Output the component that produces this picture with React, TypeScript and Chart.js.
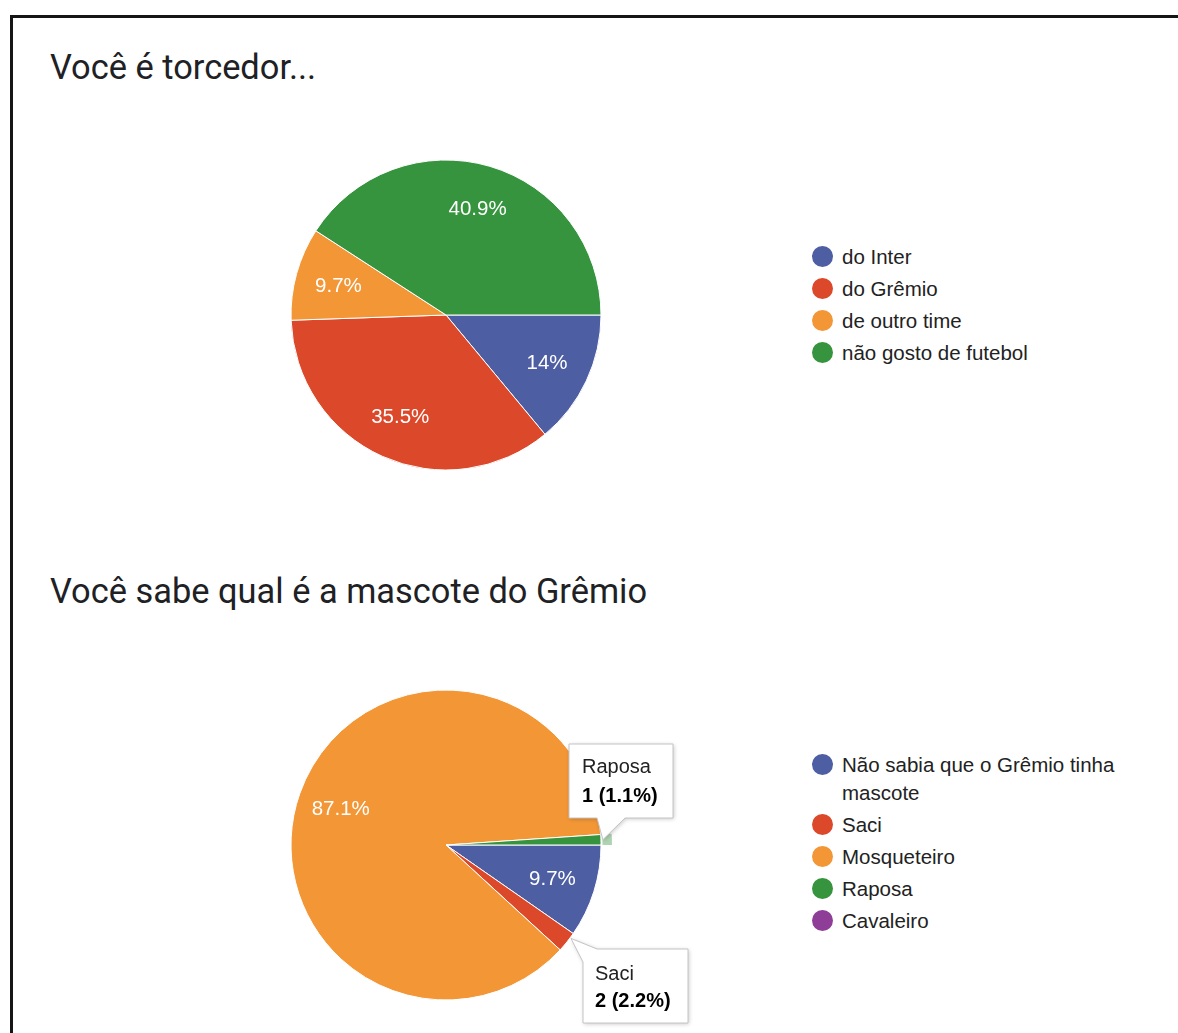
import React, { useEffect, useRef } from "react";
import { Chart, registerables } from "chart.js";

Chart.register(...registerables);

// ---------- data ----------
const supportTitle = "Você é torcedor...";
const supportLabels = ["do Inter", "do Grêmio", "de outro time", "não gosto de futebol"];
const supportValues = [13, 33, 9, 38];

const mascotTitle = "Você sabe qual é a mascote do Grêmio";
const mascotLabels = ["Não sabia que o Grêmio tinha mascote", "Saci", "Mosqueteiro", "Raposa", "Cavaleiro"];
const mascotValues = [9, 2, 81, 1, 0];

const BLUE = "#4e5ea3";
const RED = "#dc482a";
const ORANGE = "#f39636";
const GREEN = "#36943e";
const PURPLE = "#8e3e96";

const supportColors = [BLUE, RED, ORANGE, GREEN];
const mascotColors = [BLUE, RED, ORANGE, GREEN, PURPLE];

const ARIAL = 'Arial, "Liberation Sans", sans-serif';

function fmtPct(v: number, total: number): string {
  const p = Math.round((v / total) * 1000) / 10;
  return p.toString() + "%";
}

// ---------- plugins ----------
const sliceLabelPlugin = {
  id: "sliceLabels",
  afterDatasetsDraw(chart: any, _args: any, opts: any) {
    const ctx = chart.ctx as CanvasRenderingContext2D;
    const meta = chart.getDatasetMeta(0);
    const data = chart.data.datasets[0].data as number[];
    const total = data.reduce((a, b) => a + b, 0);
    ctx.save();
    ctx.font = `20.5px ${ARIAL}`;
    ctx.fillStyle = "#ffffff";
    ctx.textAlign = "center";
    ctx.textBaseline = "middle";
    meta.data.forEach((arc: any, i: number) => {
      const v = data[i];
      if (!v || (v / total) * 100 < (opts.minPercent ?? 5)) return;
      const p = arc.getProps(["x", "y", "startAngle", "endAngle", "outerRadius"], true);
      const mid = (p.startAngle + p.endAngle) / 2;
      const r = p.outerRadius * (opts.radiusFactor ?? 0.72);
      ctx.fillText(fmtPct(v, total), p.x + Math.cos(mid) * r, p.y + Math.sin(mid) * r + 1);
    });
    ctx.restore();
  },
};

const calloutPlugin = {
  id: "callouts",
  afterDraw(chart: any, _args: any, opts: any) {
    const items = opts.items || [];
    if (!items.length) return;
    const ctx = chart.ctx as CanvasRenderingContext2D;
    const meta = chart.getDatasetMeta(0);
    const data = chart.data.datasets[0].data as number[];
    const labels = chart.data.labels as string[];
    const colors = chart.data.datasets[0].backgroundColor as string[];
    const total = data.reduce((a, b) => a + b, 0);
    items.forEach((it: any) => {
      const arc = meta.data[it.index];
      const p = arc.getProps(["x", "y", "startAngle", "endAngle", "outerRadius"], true);
      const cx = p.x;
      const cy = p.y;
      ctx.save();
      if (it.ring) {
        ctx.beginPath();
        ctx.arc(cx, cy, p.outerRadius + 11, p.startAngle, p.endAngle);
        ctx.arc(cx, cy, p.outerRadius + 1.5, p.endAngle, p.startAngle, true);
        ctx.closePath();
        ctx.globalAlpha = 0.4;
        ctx.fillStyle = colors[it.index];
        ctx.fill();
        ctx.globalAlpha = 1;
      }
      const ang = p.startAngle + (p.endAngle - p.startAngle) * (it.tipFrac ?? 0.5);
      const tr = p.outerRadius + (it.tipOffset ?? 2);
      const tx = cx + Math.cos(ang) * tr;
      const ty = cy + Math.sin(ang) * tr;
      const [bx0, by0, bx1, by1] = it.box;
      const x0 = cx + bx0, y0 = cy + by0, x1 = cx + bx1, y1 = cy + by1;
      const path = () => {
        ctx.beginPath();
        if (it.edge === "bottom") {
          const [t0, t1] = it.tail;
          ctx.moveTo(x0, y0);
          ctx.lineTo(x1, y0);
          ctx.lineTo(x1, y1);
          ctx.lineTo(cx + t1, y1);
          ctx.lineTo(tx, ty);
          ctx.lineTo(cx + t0, y1);
          ctx.lineTo(x0, y1);
          ctx.closePath();
        } else {
          const [topX, leftY] = it.tail;
          ctx.moveTo(cx + topX, y0);
          ctx.lineTo(x1, y0);
          ctx.lineTo(x1, y1);
          ctx.lineTo(x0, y1);
          ctx.lineTo(x0, cy + leftY);
          ctx.lineTo(tx, ty);
          ctx.closePath();
        }
      };
      path();
      ctx.shadowColor = "rgba(0,0,0,0.22)";
      ctx.shadowBlur = 4;
      ctx.shadowOffsetX = 1;
      ctx.shadowOffsetY = 1;
      ctx.fillStyle = "#ffffff";
      ctx.fill();
      ctx.shadowColor = "transparent";
      ctx.shadowBlur = 0;
      ctx.shadowOffsetX = 0;
      ctx.shadowOffsetY = 0;
      ctx.lineWidth = 1;
      ctx.strokeStyle = "#c4c4c4";
      path();
      ctx.stroke();

      ctx.textAlign = "left";
      ctx.textBaseline = "alphabetic";
      ctx.fillStyle = "#222222";
      ctx.font = `20px ${ARIAL}`;
      ctx.fillText(labels[it.index], x0 + it.textDx, y0 + it.line1);
      ctx.fillStyle = "#000000";
      ctx.font = `bold 20px ${ARIAL}`;
      ctx.fillText(`${data[it.index]} (${fmtPct(data[it.index], total)})`, x0 + it.textDx, y0 + it.line2);
      ctx.restore();
    });
  },
};

// ---------- chart component ----------
type PieProps = {
  labels: string[];
  values: number[];
  colors: string[];
  width: number;
  height: number;
  left: number;
  top: number;
  padding: { left: number; top: number; right: number; bottom: number };
  callouts?: any[];
};

function PieChart(props: PieProps) {
  const ref = useRef<HTMLCanvasElement | null>(null);
  useEffect(() => {
    if (!ref.current) return;
    const chart = new Chart(ref.current, {
      type: "pie",
      data: {
        labels: props.labels,
        datasets: [
          {
            data: props.values,
            backgroundColor: props.colors,
            borderColor: "#ffffff",
            borderWidth: 1,
            hoverOffset: 0,
          },
        ],
      },
      options: {
        animation: false,
        responsive: false,
        maintainAspectRatio: false,
        events: [],
        rotation: 90,
        radius: 155,
        layout: { padding: props.padding },
        plugins: {
          legend: { display: false },
          tooltip: { enabled: false },
          sliceLabels: { minPercent: 5, radiusFactor: 0.72 },
          callouts: { items: props.callouts || [] },
        } as any,
      },
      plugins: [sliceLabelPlugin as any, calloutPlugin as any],
    });
    return () => chart.destroy();
  }, []);
  return (
    <canvas
      ref={ref}
      width={props.width}
      height={props.height}
      style={{ position: "absolute", left: props.left, top: props.top, width: props.width, height: props.height }}
    />
  );
}

function Legend(props: { labels: string[]; colors: string[]; left: number; top: number; width: number }) {
  const L = 27.5;
  return (
    <div style={{ position: "absolute", left: props.left, top: props.top, width: props.width }}>
      {props.labels.map((lab, i) => (
        <div
          key={i}
          style={{
            position: "relative",
            paddingLeft: 30.5,
            marginBottom: 4.5,
            font: `20.5px ${ARIAL}`,
            lineHeight: `${L}px`,
            color: "#222222",
          }}
        >
          <span
            style={{
              position: "absolute",
              left: 0,
              top: (L - 21) / 2,
              width: 21,
              height: 21,
              borderRadius: "50%",
              background: props.colors[i],
            }}
          />
          {lab}
        </div>
      ))}
    </div>
  );
}

export default function App() {
  const titleStyle: React.CSSProperties = {
    position: "absolute",
    left: 50,
    font: '34.4px Roboto, "Noto Sans", sans-serif',
    lineHeight: "34px",
    color: "#202124",
    whiteSpace: "nowrap",
  };
  return (
    <div
      style={{
        position: "absolute",
        left: 0,
        top: 0,
        width: 1178,
        height: 1033,
        overflow: "hidden",
        background: "#ffffff",
      }}
    >
      <div
        style={{
          position: "absolute",
          left: 10,
          top: 15,
          width: 1400,
          height: 1200,
          border: "3px solid #151515",
          boxSizing: "border-box",
        }}
      />
      <div style={{ ...titleStyle, top: 49.5 }}>{supportTitle}</div>
      <PieChart
        labels={supportLabels}
        values={supportValues}
        colors={supportColors}
        width={340}
        height={340}
        left={276}
        top={145}
        padding={{ left: 0, top: 0, right: 0, bottom: 0 }}
      />
      <Legend labels={supportLabels} colors={supportColors} left={811.5} top={243} width={340} />

      <div style={{ ...titleStyle, top: 574.2 }}>{mascotTitle}</div>
      <PieChart
        labels={mascotLabels}
        values={mascotValues}
        colors={mascotColors}
        width={440}
        height={358}
        left={276}
        top={675}
        padding={{ left: 0, top: 0, right: 100, bottom: 18 }}
        callouts={[
          { index: 3, box: [123, -101, 227, -27], edge: "bottom", tail: [151, 179], ring: true, tipFrac: 0.5, tipOffset: 2, textDx: 13, line1: 29, line2: 57.7 },
          { index: 1, box: [137, 104, 242, 178], edge: "topLeft", tail: [151, 117], ring: false, tipFrac: 0.25, tipOffset: 1, textDx: 12, line1: 31, line2: 58 },
        ]}
      />
      <Legend labels={mascotLabels} colors={mascotColors} left={811.5} top={751} width={345} />
    </div>
  );
}
